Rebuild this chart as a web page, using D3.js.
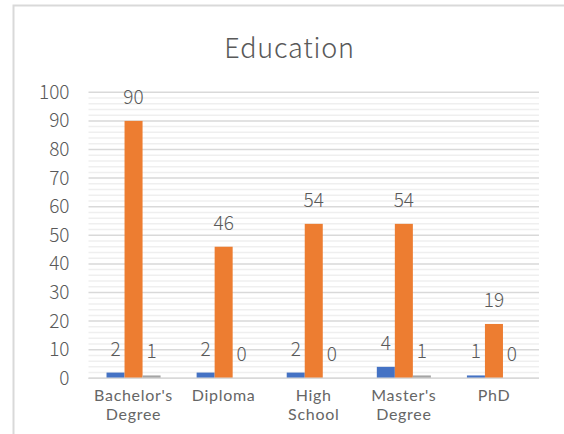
<!DOCTYPE html>
<html>
<head>
<meta charset="utf-8">
<script src="https://cdn.jsdelivr.net/npm/d3@7"></script>
<style>
  html, body { margin: 0; padding: 0; background: #fff; }
  svg { display: block; font-family: "Noto Sans CJK SC", "Noto Sans", sans-serif; }
</style>
</head>
<body>
<svg id="chart" width="564" height="434"></svg>
<script>
// Education chart data
const categories = [["Bachelor's", "Degree"], ["Diploma"], ["High", "School"], ["Master's", "Degree"], ["PhD"]];
const seriesNames = ["Series 1", "Series 2", "Series 3"];
const series1 = [2, 2, 2, 4, 1];
const series2 = [90, 46, 54, 54, 19];
const series3 = [1, 0, 0, 1, 0];
const seriesColors = ["#4472C4", "#ED7D31", "#A5A5A5"];
const yTicks = [0, 10, 20, 30, 40, 50, 60, 70, 80, 90, 100];

const svg = d3.select("#chart");
const catKeys = categories.map(c => c.join(" "));
const allSeries = [series1, series2, series3];

const plot = { left: 88.5, right: 539, top: 92.3, bottom: 378.3 };

const x0 = d3.scaleBand().domain(catKeys).range([plot.left, plot.right])
  .paddingInner(0.4).paddingOuter(0.2);
const x1 = d3.scaleBand().domain(seriesNames).range([0, x0.bandwidth()]);
const y = d3.scaleLinear().domain([0, 100]).range([plot.bottom, plot.top]);

// chart frame
svg.append("rect")
  .attr("x", 13.5).attr("y", 5.5).attr("width", 700).attr("height", 600)
  .attr("fill", "none").attr("stroke", "#d9d9d9").attr("stroke-width", 2);

// title
svg.append("text")
  .attr("x", 289.5).attr("y", 57.5)
  .attr("text-anchor", "middle")
  .attr("font-size", 27).attr("font-weight", 300).attr("letter-spacing", 0.8)
  .attr("fill", "#595959")
  .text("Education");

// minor gridlines
const minor = d3.range(2, 100, 2).filter(v => v % 10 !== 0);
svg.append("g").selectAll("line").data(minor).join("line")
  .attr("x1", plot.left).attr("x2", plot.right)
  .attr("y1", d => y(d)).attr("y2", d => y(d))
  .attr("stroke", "#efefef").attr("stroke-width", 1.5);

// major gridlines
svg.append("g").selectAll("line").data(yTicks).join("line")
  .attr("x1", plot.left).attr("x2", plot.right)
  .attr("y1", d => y(d)).attr("y2", d => y(d))
  .attr("stroke", "#d9d9d9").attr("stroke-width", 1.5);

// y axis labels
const yAxis = svg.append("g")
  .attr("transform", `translate(${plot.left},0)`)
  .call(d3.axisLeft(y).tickValues(yTicks).tickSize(0).tickPadding(19));
yAxis.select(".domain").remove();
yAxis.selectAll("text")
  .attr("font-size", 19).attr("font-weight", 300).attr("fill", "#595959")
  .attr("font-family", "\"Noto Sans CJK SC\", sans-serif");

// bars and value labels
const groups = svg.append("g").selectAll("g").data(catKeys).join("g")
  .attr("transform", d => `translate(${x0(d)},0)`);

groups.each(function(cat, ci) {
  const g = d3.select(this);
  allSeries.forEach((vals, si) => {
    const v = vals[ci];
    const bx = x1(seriesNames[si]);
    if (v > 0) {
      g.append("rect")
        .attr("x", bx).attr("width", x1.bandwidth())
        .attr("y", y(v)).attr("height", y(0) - y(v))
        .attr("fill", seriesColors[si]);
    }
    g.append("text")
      .attr("x", bx + x1.bandwidth() / 2)
      .attr("y", y(v) - 17)
      .attr("text-anchor", "middle")
      .attr("font-size", 19).attr("font-weight", 300).attr("fill", "#595959")
      .text(v);
  });
});

// category axis line
svg.append("line")
  .attr("x1", plot.left).attr("x2", plot.right)
  .attr("y1", y(0)).attr("y2", y(0))
  .attr("stroke", "#d9d9d9").attr("stroke-width", 1.5);

// category labels, one text per line
const lines = [];
categories.forEach((parts, i) => parts.forEach((t, j) => lines.push({ key: catKeys[i], text: t, row: j })));
svg.append("g").selectAll("text").data(lines).join("text")
  .attr("x", d => x0(d.key) + x0.bandwidth() / 2)
  .attr("y", d => 401 + d.row * 19.2)
  .attr("text-anchor", "middle")
  .attr("font-family", "Lato, sans-serif")
  .attr("font-size", 16).attr("letter-spacing", 0.7).attr("fill", "#666666")
  .text(d => d.text);
</script>
</body>
</html>
